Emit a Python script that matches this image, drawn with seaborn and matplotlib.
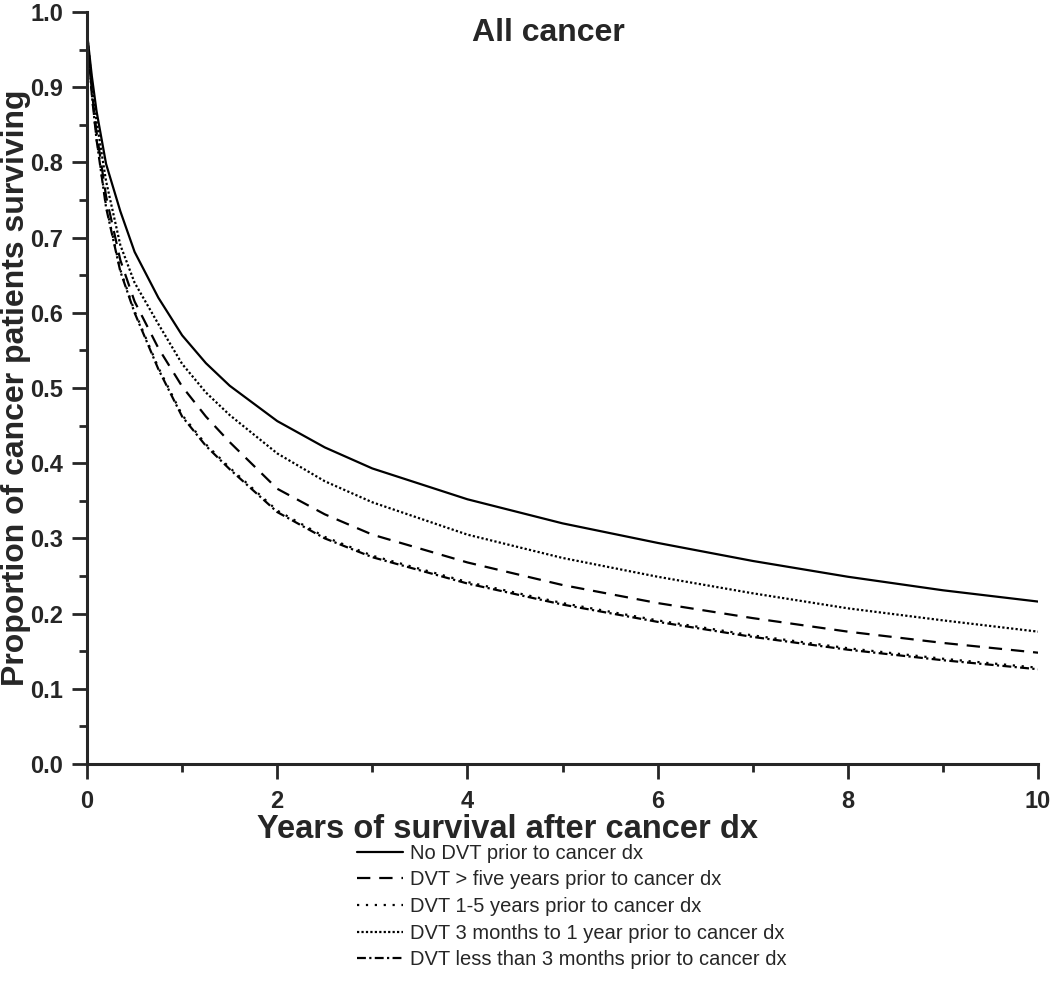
import numpy as np
import pandas as pd
import matplotlib
matplotlib.use("Agg")
import matplotlib.pyplot as plt
from matplotlib.ticker import MultipleLocator
import seaborn as sns

# Survival proportions
years = [0, 0.05, 0.1, 0.2, 0.35, 0.5, 0.75, 1, 1.25, 1.5, 2, 2.5, 3, 4, 5, 6, 7, 8, 9, 10]

no_dvt = [0.972, 0.915, 0.868, 0.798, 0.735, 0.681, 0.620, 0.570, 0.533, 0.503,
          0.456, 0.421, 0.393, 0.352, 0.320, 0.294, 0.270, 0.249, 0.231, 0.216]
dvt_over_5y = [0.972, 0.895, 0.840, 0.755, 0.670, 0.615, 0.553, 0.502, 0.462, 0.428,
               0.366, 0.332, 0.305, 0.268, 0.238, 0.214, 0.194, 0.176, 0.161, 0.148]
dvt_1_5y = [0.972, 0.891, 0.831, 0.742, 0.657, 0.602, 0.527, 0.464, 0.425, 0.394,
            0.337, 0.302, 0.277, 0.242, 0.214, 0.191, 0.171, 0.154, 0.140, 0.128]
dvt_3m_1y = [0.972, 0.905, 0.855, 0.775, 0.690, 0.640, 0.585, 0.532, 0.494, 0.464,
             0.413, 0.376, 0.348, 0.305, 0.274, 0.249, 0.227, 0.207, 0.191, 0.176]
dvt_under_3m = [0.972, 0.890, 0.830, 0.740, 0.655, 0.600, 0.525, 0.462, 0.423, 0.392,
                0.335, 0.300, 0.275, 0.240, 0.212, 0.189, 0.169, 0.152, 0.138, 0.126]

labels = ["No DVT prior to cancer dx",
          "DVT > five years prior to cancer dx",
          "DVT 1-5 years prior to cancer dx",
          "DVT 3 months to 1 year prior to cancer dx",
          "DVT less than 3 months prior to cancer dx"]
series = [no_dvt, dvt_over_5y, dvt_1_5y, dvt_3m_1y, dvt_under_3m]
styles = ["-", (0, (6, 4)), (0, (1, 3)), (0, (1, 1)), (0, (4, 1.5, 1, 1.5))]

sns.set_style("ticks")
plt.rcParams['font.family'] = ['Liberation Sans', 'DejaVu Sans']

fig = plt.figure(figsize=(10.5, 9.89), dpi=100)
ax = fig.add_axes([0.0829, 0.2275, 0.9057, 0.7604])

for lab, vals, ls in zip(labels, series, styles):
    df = pd.DataFrame({"years": years, "surv": vals})
    sns.lineplot(data=df, x="years", y="surv", ax=ax, color="black",
                 linewidth=1.6, linestyle=ls, label=lab)

ax.set_xlim(0, 10)
ax.set_ylim(0, 1.0)
ax.xaxis.set_major_locator(MultipleLocator(2))
ax.xaxis.set_minor_locator(MultipleLocator(1))
ax.yaxis.set_major_locator(MultipleLocator(0.1))
ax.yaxis.set_minor_locator(MultipleLocator(0.05))
ax.yaxis.set_major_formatter(matplotlib.ticker.FormatStrFormatter("%.1f"))

for s in ["top", "right"]:
    ax.spines[s].set_visible(False)
for s in ["left", "bottom"]:
    ax.spines[s].set_linewidth(2.2)

ax.tick_params(which="major", length=11, width=2, direction="out", labelsize=17)
ax.tick_params(axis="x", which="major", pad=8)
ax.tick_params(axis="y", which="major", pad=6)
ax.tick_params(which="minor", length=6, width=2, direction="out")
for t in ax.get_xticklabels() + ax.get_yticklabels():
    t.set_fontweight("bold")

ax.set_xlabel("Years of survival after cancer dx", fontsize=23.5, fontweight="bold")
ax.xaxis.set_label_coords(0.442, -0.066)
ax.set_ylabel("Proportion of cancer patients surviving", fontsize=23, fontweight="bold")
ax.yaxis.set_label_coords(-0.059, 0.5)
ax.text(0.485, 0.992, "All cancer", transform=ax.transAxes, ha="center", va="top",
        fontsize=23, fontweight="bold")

handles, labs = ax.get_legend_handles_labels()
if ax.get_legend() is not None:
    ax.get_legend().remove()
fig.legend(handles, labs, loc="upper left", bbox_to_anchor=(0.34, 0.147),
           frameon=False, fontsize=14.5, handlelength=2.3, handletextpad=0.35,
           labelspacing=0.38, borderpad=0, borderaxespad=0)

fig.savefig("out.png", dpi=100)
